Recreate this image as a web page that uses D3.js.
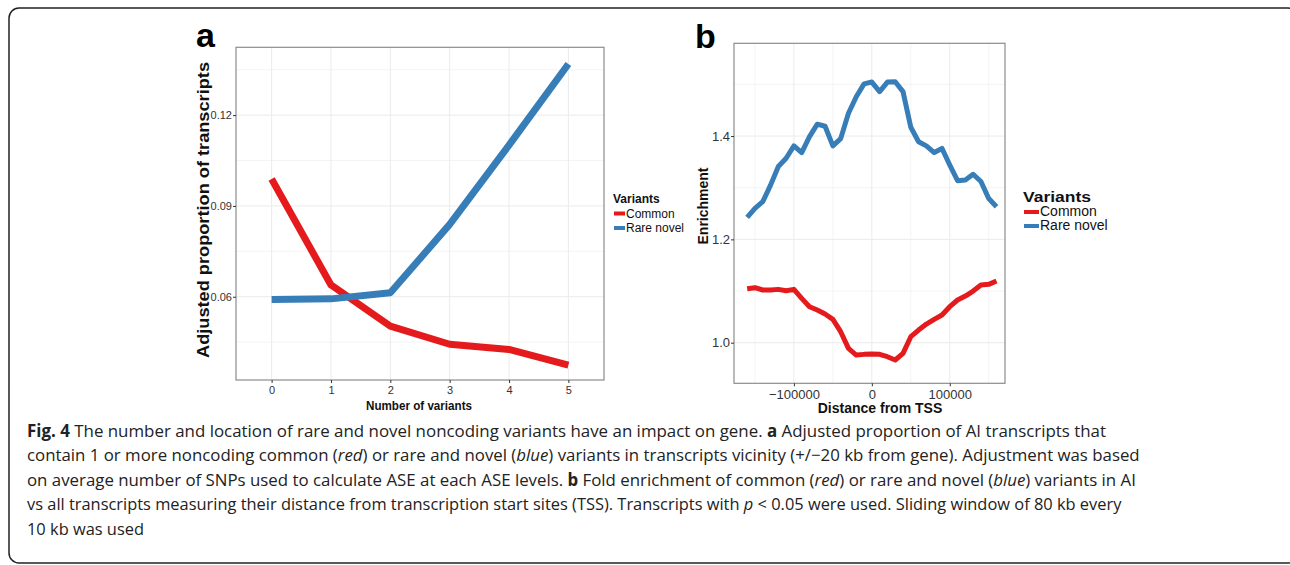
<!DOCTYPE html>
<html>
<head>
<meta charset="utf-8">
<script src="https://cdn.jsdelivr.net/npm/d3@7"></script>
<style>
  body { margin: 0; background: #fff; }
  svg { display: block; }
</style>
</head>
<body>
<svg id="fig" width="1290" height="565"></svg>
<script>
// datos del panel a
const variantCounts = [0, 1, 2, 3, 4, 5];
const commonA = [0.0989, 0.0639, 0.0503, 0.0443, 0.0426, 0.0374];
const rareNovelA = [0.0591, 0.0593, 0.0613, 0.0839, 0.1101, 0.1369];
const ticksAy = [0.06, 0.09, 0.12];
const minorAy = [0.045, 0.075, 0.105, 0.135];

// datos del panel b (ventana de 80 kb cada 10 kb)
const tssDistance = [-160000, -150000, -140000, -130000, -120000, -110000, -100000, -90000, -80000, -70000, -60000,
  -50000, -40000, -30000, -20000, -10000, 0, 10000, 20000, 30000, 40000, 50000, 60000, 70000, 80000, 90000,
  100000, 110000, 120000, 130000, 140000, 150000, 160000];
const commonB = [1.1045, 1.1065, 1.102, 1.102, 1.1032, 1.1006, 1.1032, 1.0858, 1.0697, 1.0632, 1.0555,
  1.0452, 1.0213, 0.989, 0.9761, 0.9774, 0.978, 0.9774, 0.9729, 0.9665, 0.9794, 1.0116,
  1.0245, 1.0361, 1.0452, 1.0535, 1.0697, 1.0826, 1.0903, 1.1, 1.1116, 1.1129, 1.1194];
const rareNovelB = [1.2426, 1.26, 1.273, 1.305, 1.341, 1.357, 1.381, 1.368, 1.399, 1.423, 1.419,
  1.381, 1.395, 1.444, 1.476, 1.501, 1.5045, 1.486, 1.5045, 1.505, 1.486, 1.417,
  1.389, 1.381, 1.368, 1.376, 1.344, 1.3135, 1.315, 1.326, 1.312, 1.279, 1.263];
const ticksBx = [-100000, 0, 100000];
const minorBx = [-150000, -50000, 50000, 150000];
const ticksBy = [1.0, 1.2, 1.4];
const minorBy = [1.1, 1.3, 1.5];

const seriesNames = ["Common", "Rare novel"];
const seriesColors = ["#E41A1C", "#377EB8"];

const chartFont = "'Liberation Sans', Arial, sans-serif";
const svg = d3.select("#fig");

// marco redondeado de la figura
svg.append("rect")
  .attr("x", 9).attr("y", 8)
  .attr("width", 1289).attr("height", 555)
  .attr("rx", 10)
  .attr("fill", "none")
  .attr("stroke", "#222")
  .attr("stroke-width", 1.5);

// texto con ancho fijo (la figura original esta estirada)
function fitText(sel, len) {
  if (len) sel.attr("textLength", len).attr("lengthAdjust", "spacingAndGlyphs");
  return sel;
}

function drawPanel(opts) {
  const g = svg.append("g");
  const x = opts.x, y = opts.y;
  const [x0, x1] = x.range(), [y0, y1] = y.range();

  // cuadricula
  g.selectAll(".minor-y").data(opts.minorY).join("line")
    .attr("x1", x0).attr("x2", x1)
    .attr("y1", d => y(d)).attr("y2", d => y(d))
    .attr("stroke", "#f4f4f4").attr("stroke-width", 1);
  g.selectAll(".minor-x").data(opts.minorX).join("line")
    .attr("y1", y0).attr("y2", y1)
    .attr("x1", d => x(d)).attr("x2", d => x(d))
    .attr("stroke", "#f4f4f4").attr("stroke-width", 1);
  g.selectAll(".major-y").data(opts.ticksY).join("line")
    .attr("x1", x0).attr("x2", x1)
    .attr("y1", d => y(d)).attr("y2", d => y(d))
    .attr("stroke", "#ebebeb").attr("stroke-width", 1);
  g.selectAll(".major-x").data(opts.ticksX).join("line")
    .attr("y1", y0).attr("y2", y1)
    .attr("x1", d => x(d)).attr("x2", d => x(d))
    .attr("stroke", "#ebebeb").attr("stroke-width", 1);

  // lineas de las series
  const line = d3.line().x(d => x(d[0])).y(d => y(d[1]));
  opts.series.forEach((vals, i) => {
    g.append("path")
      .datum(opts.xs.map((v, k) => [v, vals[k]]))
      .attr("d", line)
      .attr("fill", "none")
      .attr("stroke", seriesColors[i])
      .attr("stroke-width", opts.lineWidth)
      .attr("stroke-linejoin", "round");
  });

  // borde del panel
  g.append("rect")
    .attr("x", x0).attr("y", y1)
    .attr("width", x1 - x0).attr("height", y0 - y1)
    .attr("fill", "none").attr("stroke", "#8c8c8c").attr("stroke-width", 1.2);

  // ejes
  const ax = g.append("g")
    .attr("transform", "translate(0," + y0 + ")")
    .call(d3.axisBottom(x).tickValues(opts.ticksX).tickSize(3).tickPadding(3).tickFormat(opts.fmtX));
  const ay = g.append("g")
    .attr("transform", "translate(" + x0 + ",0)")
    .call(d3.axisLeft(y).tickValues(opts.ticksY).tickSize(3).tickPadding(1).tickFormat(opts.fmtY));
  [ax, ay].forEach(a => {
    a.select(".domain").remove();
    a.selectAll(".tick line").attr("stroke", "#333").attr("stroke-width", 1);
    a.selectAll("text").attr("fill", "#333")
      .style("font-family", chartFont).style("font-size", opts.tickSize + "px");
  });

  // titulos
  fitText(g.append("text")
    .attr("x", opts.xTitlePos[0]).attr("y", opts.xTitlePos[1])
    .attr("text-anchor", "middle")
    .style("font-family", chartFont).style("font-weight", "bold")
    .style("font-size", opts.xTitleSize + "px").attr("fill", "#111")
    .text(opts.xTitle), opts.xTitleLen);
  fitText(g.append("text")
    .attr("transform", "translate(" + opts.yTitlePos[0] + "," + opts.yTitlePos[1] + ") rotate(-90)")
    .attr("text-anchor", "middle")
    .style("font-family", chartFont).style("font-weight", "bold")
    .style("font-size", opts.yTitleSize + "px").attr("fill", "#111")
    .text(opts.yTitle), opts.yTitleLen);
  g.append("text")
    .attr("x", opts.labelPos[0]).attr("y", opts.labelPos[1])
    .style("font-family", chartFont).style("font-weight", "bold")
    .style("font-size", "34px").attr("fill", "#000")
    .text(opts.label);

  // leyenda
  const lg = g.append("g").attr("transform", "translate(" + opts.legendPos[0] + "," + opts.legendPos[1] + ")");
  fitText(lg.append("text")
    .attr("x", 0).attr("y", 0)
    .style("font-family", chartFont).style("font-weight", "bold")
    .style("font-size", opts.legendTitleSize + "px").attr("fill", "#111")
    .text("Variants"), opts.legendTitleLen);
  seriesNames.forEach((name, i) => {
    lg.append("rect")
      .attr("x", 1).attr("y", opts.legendRow * (i + 1) - opts.legendKey[1] / 2 - 4)
      .attr("width", opts.legendKey[0]).attr("height", opts.legendKey[1])
      .attr("fill", seriesColors[i]);
    lg.append("text")
      .attr("x", opts.legendKey[0] + 2).attr("y", opts.legendRow * (i + 1))
      .style("font-family", chartFont)
      .style("font-size", opts.legendSize + "px").attr("fill", "#111")
      .text(name);
  });
}

// Panel a
drawPanel({
  x: d3.scaleLinear().domain([-0.6, 5.6]).range([236, 604]),
  y: d3.scaleLinear().domain([0.0325, 0.1424]).range([380, 47.3]),
  xs: variantCounts,
  series: [commonA, rareNovelA],
  ticksX: variantCounts, minorX: [],
  ticksY: ticksAy, minorY: minorAy,
  fmtX: d3.format("d"), fmtY: d3.format(".2f"),
  tickSize: 11, lineWidth: 7,
  xTitle: "Number of variants", xTitleSize: 13, xTitleLen: 106, xTitlePos: [419, 410],
  yTitle: "Adjusted proportion of transcripts", yTitleSize: 16, yTitleLen: 296, yTitlePos: [209, 210],
  label: "a", labelPos: [196, 47],
  legendPos: [613, 203], legendTitleSize: 12, legendSize: 12, legendRow: 14.5, legendKey: [11, 4]
});

// Panel b
drawPanel({
  x: d3.scaleLinear().domain([-176900, 170900]).range([734, 1005]),
  y: d3.scaleLinear().domain([0.9214, 1.5795]).range([383.3, 43.3]),
  xs: tssDistance,
  series: [commonB, rareNovelB],
  ticksX: ticksBx, minorX: minorBx,
  ticksY: ticksBy, minorY: minorBy,
  fmtX: d3.format("d"), fmtY: d3.format(".1f"),
  tickSize: 13, lineWidth: 5,
  xTitle: "Distance from TSS", xTitleSize: 14, xTitlePos: [880, 413],
  yTitle: "Enrichment", yTitleSize: 14, yTitlePos: [708, 206],
  label: "b", labelPos: [695, 48],
  legendPos: [1023, 202], legendTitleSize: 14, legendTitleLen: 68, legendSize: 14, legendRow: 14, legendKey: [15, 4]
});

// Leyenda de la figura
const captionLines = [
  [["Fig. 4", "b"], [" The number and location of rare and novel noncoding variants have an impact on gene. "], ["a", "b"], [" Adjusted proportion of AI transcripts that"]],
  [["contain 1 or more noncoding common ("], ["red", "i"], [") or rare and novel ("], ["blue", "i"], [") variants in transcripts vicinity (+/\u221220 kb from gene). Adjustment was based"]],
  [["on average number of SNPs used to calculate ASE at each ASE levels. "], ["b", "b"], [" Fold enrichment of common ("], ["red", "i"], [") or rare and novel ("], ["blue", "i"], [") variants in AI"]],
  [["vs all transcripts measuring their distance from transcription start sites (TSS). Transcripts with "], ["p", "i"], [" < 0.05 were used. Sliding window of 80 kb every"]],
  [["10 kb was used"]]
];
const captionEnds = [1107, 1140, 1137, 1122, null];
const captionX = 27;
let lastK = 1;

captionLines.forEach((segs, i) => {
  const t = svg.append("text")
    .attr("x", captionX).attr("y", 437 + i * 24.5)
    .style("font-family", "'Open Sans', sans-serif")
    .style("font-size", "17px").attr("fill", "#222");
  segs.forEach(s => {
    t.append("tspan")
      .style("font-weight", s[1] === "b" ? "bold" : null)
      .style("font-style", s[1] === "i" ? "italic" : null)
      .text(s[0]);
  });
  // ajustar el ancho de la linea al original
  const w = t.node().getComputedTextLength();
  const k = captionEnds[i] ? (captionEnds[i] - captionX) / w : lastK;
  lastK = k;
  t.attr("transform", "translate(" + captionX + ",0) scale(" + k + ",1) translate(" + (-captionX) + ",0)");
});
</script>
</body>
</html>
